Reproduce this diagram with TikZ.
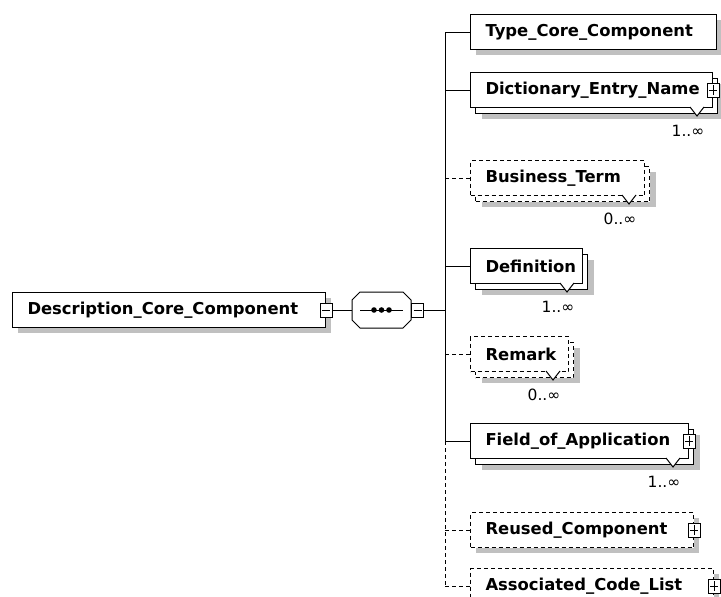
\documentclass[tikz,border=0pt]{standalone}
\usepackage{fontspec}
\setmainfont{DejaVu Sans}
\usetikzlibrary{calc}
\definecolor{shd}{RGB}{192,192,192}
\tikzset{
  box/.style={draw, line width=1pt, fill=white, minimum height=35pt, anchor=north west, inner sep=0pt},
  dbox/.style={box, dash pattern=on 4pt off 3pt},
  txt/.style={font=\bfseries\fontsize{16.4}{20}\selectfont, anchor=west, inner sep=0pt},
  card/.style={font=\fontsize{15.5}{18}\selectfont, inner sep=0pt},
  pm/.style={draw, fill=white, line width=1pt, minimum width=12pt, minimum height=14pt, inner sep=0pt},
  dsh/.style={dash pattern=on 4pt off 3pt},
}
\newcommand{\pmsign}[2]{% #1 node, #2 plus(1)/minus(0)
  \draw ([xshift=-4pt]#1.center) -- ([xshift=4pt]#1.center);
  \ifnum#2=1 \draw ([yshift=-5pt]#1.center) -- ([yshift=5pt]#1.center);\fi}
% single box: name, x, y, width, style, text
\newcommand{\sbx}[6]{%
  \fill[shd] (#2+6,#3+6) rectangle ++(#4,35);
  \node[#5, minimum width=#4 pt] (#1) at (#2,#3) {};
  \node[txt] (#1-t) at ([xshift=15pt]#1.west) {#6};}
% multiple box: name, x, y, width, style, text, cardinality
\newcommand{\mbx}[7]{%
  \fill[shd] (#2+12,#3+12) rectangle ++(#4,35);
  \node[#5, minimum width=#4 pt] (#1-b) at (#2+5,#3+6) {};
  \node[#5, minimum width=#4 pt] (#1) at (#2,#3) {};
  \fill[white] (#2+#4-22,#3+35) -- (#2+#4-15,#3+44) -- (#2+#4-8,#3+35) -- cycle;
  \draw (#2+#4-22,#3+35) -- (#2+#4-15,#3+44) -- (#2+#4-8,#3+35);
  \node[txt] (#1-t) at ([xshift=15pt]#1.west) {#6};
  \node[card] (#1-c) at (#2+#4-24,#3+59) {#7};}
\begin{document}
\begin{tikzpicture}[x=1pt, y=-1pt, line width=1pt]
\useasboundingbox (0,0) rectangle (721,597);
\clip (0,0) rectangle (721,597);
\coordinate (vx) at (445,0);
% main element
\sbx{dcc}{12}{292}{313}{box}{Description\_Core\_Component}
\node[pm] (dccm) at (dcc.east) {}; \pmsign{dccm}{0}
% sequence compositor
\node[minimum width=58pt, minimum height=35pt, inner sep=0pt, anchor=north west] (seq) at (352,292) {};
\begin{scope}[shift={(6,7)}]
\fill[shd] ($(seq.north west)+(8,0)$) -- ($(seq.north east)+(-8,0)$) -- ($(seq.north east)+(0,8)$) -- ($(seq.south east)+(0,-8)$) -- ($(seq.south east)+(-8,0)$) -- ($(seq.south west)+(8,0)$) -- ($(seq.south west)+(0,-8)$) -- ($(seq.north west)+(0,8)$) -- cycle;
\end{scope}
\filldraw[fill=white] ($(seq.north west)+(8,0)$) -- ($(seq.north east)+(-8,0)$) -- ($(seq.north east)+(0,8)$) -- ($(seq.south east)+(0,-8)$) -- ($(seq.south east)+(-8,0)$) -- ($(seq.south west)+(8,0)$) -- ($(seq.south west)+(0,-8)$) -- ($(seq.north west)+(0,8)$) -- cycle;
\draw ($(seq.west)+(8,0)$) -- ($(seq.east)+(-8,0)$);
\foreach \d in {-7.5,0,7.5} \fill ($(seq.center)+(\d,0)$) circle (2.8);
\node[pm, anchor=west] (seqm) at (seq.east) {}; \pmsign{seqm}{0}
\draw (dccm.east) -- (seq.west);
% children
\sbx{tcc}{470}{14}{246}{box}{Type\_Core\_Component}
\mbx{den}{470}{72}{242}{box}{Dictionary\_Entry\_Name}{1..∞}
\node[pm] (denp) at (den.east) {}; \pmsign{denp}{1}
\mbx{bt}{470}{160}{174}{dbox}{Business\_Term}{0..∞}
\mbx{def}{470}{248}{112}{box}{Definition}{1..∞}
\mbx{rem}{470}{336}{98}{dbox}{Remark}{0..∞}
\mbx{foa}{470}{423}{218}{box}{Field\_of\_Application}{1..∞}
\node[pm] (foap) at (foa.east) {}; \pmsign{foap}{1}
\sbx{rc}{470}{512}{223}{dbox}{Reused\_Component}
\node[pm] (rcp) at (rc.east) {}; \pmsign{rcp}{1}
\sbx{acl}{470}{568}{243}{dbox}{Associated\_Code\_List}
\node[pm] (aclp) at (acl.east) {}; \pmsign{aclp}{1}
% connectors
\draw (seqm.east) -- (seqm.east -| vx);
\draw (tcc.west -| vx) -- (foa.west -| vx);
\draw[dsh] (foa.west -| vx) -- (acl.west -| vx);
\draw (tcc.west -| vx) -- (tcc.west);
\draw (den.west -| vx) -- (den.west);
\draw[dsh] (bt.west -| vx) -- (bt.west);
\draw (def.west -| vx) -- (def.west);
\draw[dsh] (rem.west -| vx) -- (rem.west);
\draw (foa.west -| vx) -- (foa.west);
\draw[dsh] (rc.west -| vx) -- (rc.west);
\draw[dsh] (acl.west -| vx) -- (acl.west);
\end{tikzpicture}
\end{document}
